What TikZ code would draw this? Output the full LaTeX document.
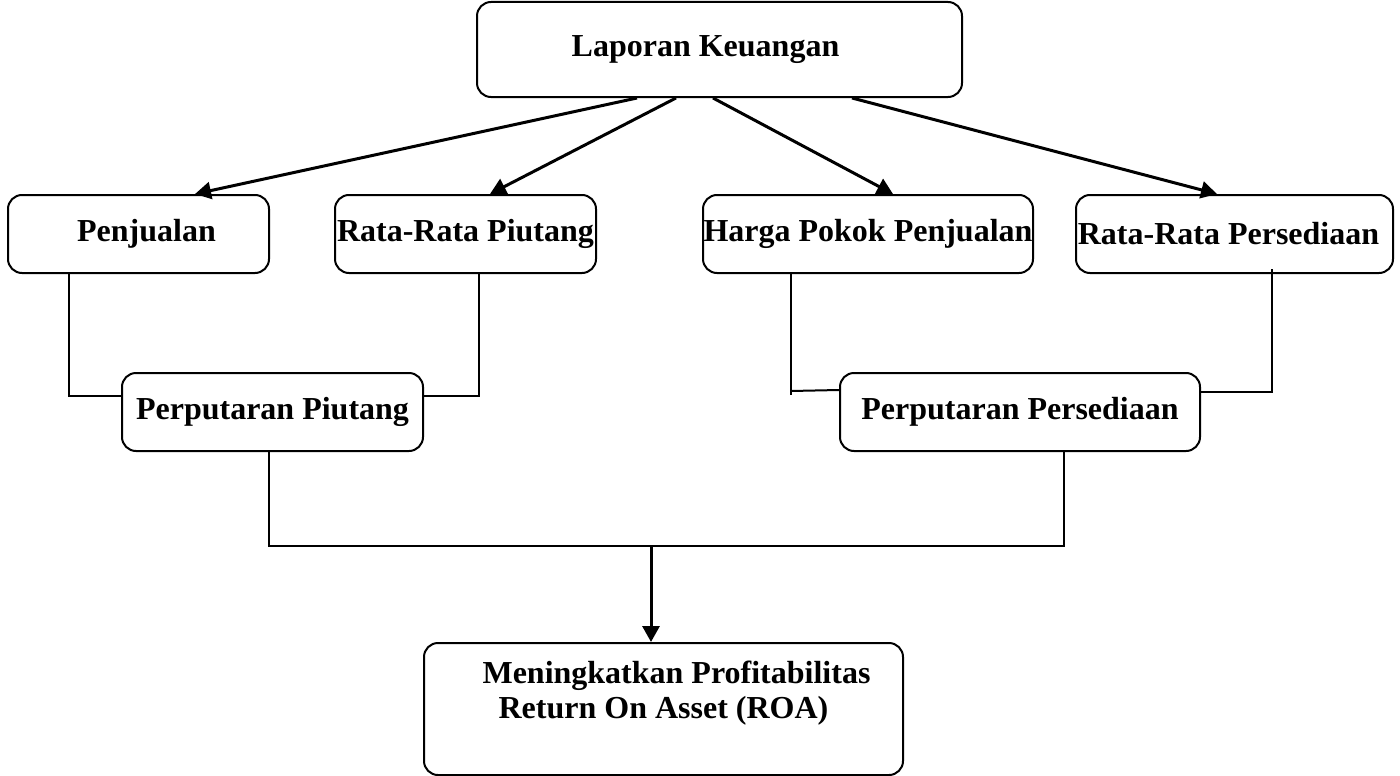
\documentclass[tikz,border=0pt]{standalone}
\usepackage{fontspec}
\setmainfont{Liberation Serif}
\usetikzlibrary{arrows.meta}

\begin{document}
\begin{tikzpicture}[x=1pt,y=-1pt,
  every text node part/.style={align=center},
  box/.style={draw, line width=2pt, rounded corners=14pt, inner sep=0pt,
    font=\fontsize{32}{35}\selectfont\bfseries},
  arr/.style={-{Triangle[length=16pt,width=17pt]}, line width=3pt},
  link/.style={line width=2pt}]
  \useasboundingbox (0,0) rectangle (1400,776);
  \node (lap) [box, minimum width=485pt, minimum height=95pt] at (719.5,49.5) {Laporan Keuangan\hspace*{28pt}};
  \node (pen) [box, minimum width=261pt, minimum height=78pt] at (138.5,234) {\hspace*{16pt}Penjualan};
  \node (rrp) [box, minimum width=261pt, minimum height=78pt] at (465.5,234) {Rata-Rata Piutang};
  \node (hpp) [box, minimum width=330pt, minimum height=78pt] at (868,234) {Harga Pokok Penjualan};
  \node (rrs) [box, minimum width=317pt, minimum height=78pt] at (1234.5,234) {Rata-Rata Persediaan\hspace*{12pt}};
  \node (pp) [box, minimum width=301pt, minimum height=78pt] at (272.5,412) {Perputaran Piutang};
  \node (pps) [box, minimum width=360pt, minimum height=78pt] at (1020,412) {Perputaran Persediaan};
  \node (roa) [box, minimum width=479pt, minimum height=132pt, text depth=39pt] at (663.5,709)
    {\hspace*{26pt}Meningkatkan Profitabilitas \\ Return On Asset (ROA)};
  \coordinate (join) at (651,546);
  % from the report to the four items
  \draw[arr] ([xshift=-82.5pt]lap.south) -- ([xshift=56.5pt]pen.north);
  \draw[arr] ([xshift=-43.5pt]lap.south) -- ([xshift=24.5pt]rrp.north);
  \draw[arr] ([xshift=-6.5pt]lap.south) -- ([xshift=25pt]hpp.north);
  \draw[arr] ([xshift=132.5pt]lap.south) -- ([xshift=-17.5pt]rrs.north);
  % ratios
  \draw[link] ([xshift=-69.5pt]pen.south) |- ([yshift=16pt]pp.west);
  \draw[link] ([xshift=13.5pt]rrp.south) |- ([yshift=16pt]pp.east);
  \draw[link] ([xshift=-77pt]hpp.south) -- ++(0,121);
  \draw[link] ([xshift=-77pt,yshift=-117pt]hpp.south) -- ([yshift=22pt]pps.west);
  \draw[link] ([xshift=37.5pt,yshift=5pt]rrs.south) |- ([yshift=20pt]pps.east);
  % to ROA
  \draw[link] ([xshift=-3.5pt]pp.south) |- (join) -| ([xshift=44pt]pps.south);
  \draw[arr] (join) -- (join |- roa.north);
\end{tikzpicture}
\end{document}
